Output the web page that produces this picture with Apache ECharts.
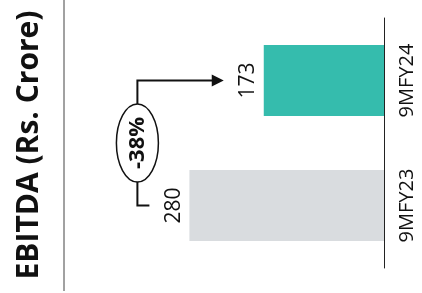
<!DOCTYPE html>
<html>
<head>
<meta charset="utf-8">
<script src="https://cdn.jsdelivr.net/npm/echarts@6/dist/echarts.min.js"></script>
<style>
  html, body { margin: 0; padding: 0; background: #fff; }
  #chart { width: 422px; height: 293px; }
</style>
</head>
<body>
<div id="chart"></div>
<script>
// data
const periods = ['9MFY23', '9MFY24'];
const ebitda = [280, 173];
const barColors = ['#d9dcdf', '#35bcad'];
const changeLabel = '-38%';
const titleText = 'EBITDA (Rs. Crore)';

const chart = echarts.init(document.getElementById('chart'));

chart.setOption({
  animation: false,
  grid: { left: 106, right: 38, top: 18, bottom: 25 },
  xAxis: { type: 'value', inverse: true, min: 0, max: 400, show: false },
  yAxis: {
    type: 'category',
    position: 'right',
    data: periods,
    axisLine: { lineStyle: { color: '#222', width: 1 } },
    axisTick: { show: false },
    axisLabel: { rotate: 90, fontSize: 20, color: '#111', fontFamily: 'Open Sans', margin: 13 }
  },
  series: [{
    type: 'bar',
    barWidth: 71,
    data: ebitda.map((v, i) => ({ value: v, itemStyle: { color: barColors[i] } })),
    label: {
      show: true,
      position: 'left',
      rotate: 90,
      align: 'center',
      verticalAlign: 'bottom',
      distance: 5,
      fontSize: 21,
      color: '#111',
      fontFamily: 'Open Sans'
    }
  }]
});

// title, divider and the change annotation, placed from the axis scales
const p0 = chart.convertToPixel({ gridIndex: 0 }, [ebitda[0], 0]);
const p1 = chart.convertToPixel({ gridIndex: 0 }, [ebitda[1], 1]);
const vx = p0[0] - 52;
const tickEnd = p0[0] - 40;
const arrowEnd = p1[0] - 40;
const midY = (p0[1] + p1[1]) / 2;

chart.setOption({
  graphic: [
    {
      type: 'text', x: 29, y: 145, rotation: Math.PI / 2,
      style: { text: titleText, font: 'bold 30px "Open Sans"', fill: '#111', align: 'center', verticalAlign: 'middle' }
    },
    {
      type: 'line', shape: { x1: 64, y1: 0, x2: 64, y2: 291 },
      style: { stroke: '#444', lineWidth: 1 }
    },
    {
      type: 'polyline',
      shape: { points: [[tickEnd, p0[1]], [vx, p0[1]], [vx, p1[1]], [arrowEnd - 10, p1[1]]] },
      style: { stroke: '#111', lineWidth: 2, fill: null }
    },
    {
      type: 'polygon',
      shape: { points: [[arrowEnd, p1[1]], [arrowEnd - 12, p1[1] - 6], [arrowEnd - 12, p1[1] + 6]] },
      style: { fill: '#111' }
    },
    {
      type: 'ellipse', shape: { cx: vx, cy: midY, rx: 21, ry: 39 },
      style: { fill: '#fff', stroke: '#111', lineWidth: 1.5 }
    },
    {
      type: 'text', x: vx, y: midY, rotation: Math.PI / 2,
      style: { text: changeLabel, font: 'bold 22px "Open Sans"', fill: '#111', align: 'center', verticalAlign: 'middle' }
    }
  ]
});
</script>
</body>
</html>
